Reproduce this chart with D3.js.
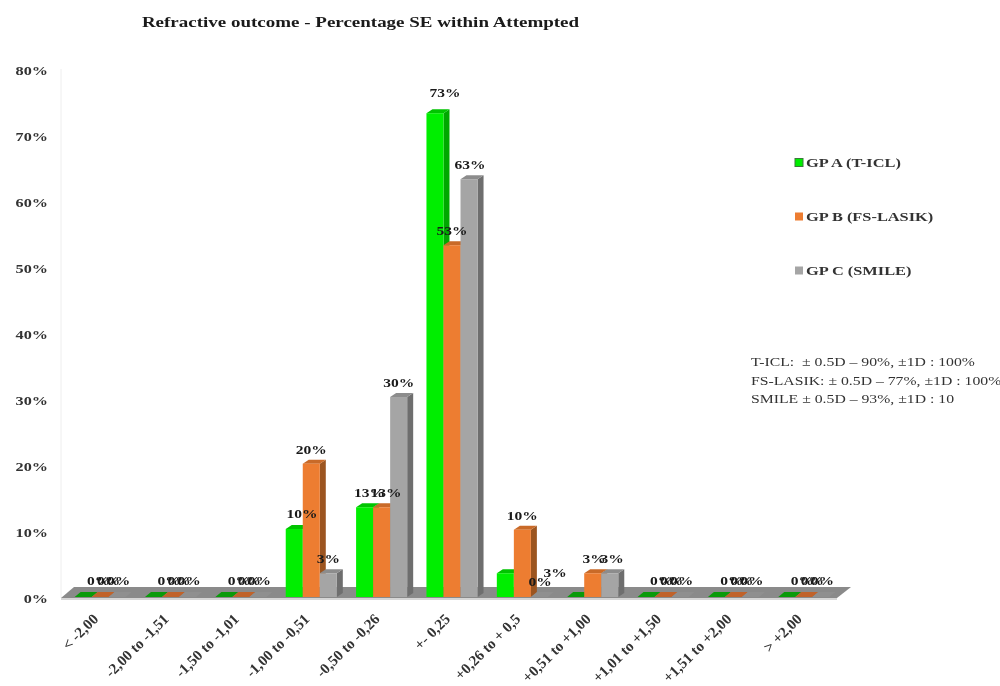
<!DOCTYPE html>
<html><head><meta charset="utf-8">
<script src="https://cdn.jsdelivr.net/npm/d3@7"></script>
<style>
html,body{margin:0;padding:0;background:#fff;overflow:hidden}
svg{display:block;filter:blur(0.7px)}
text{font-family:"Liberation Serif","Times New Roman",serif;fill:#1a1a1a}
</style></head><body>
<svg id="c" width="1000" height="686"></svg>
<script>
const categories=["< -2,00","-2,00 to -1,51","-1,50 to -1,01","-1,00 to -0,51","-0,50 to -0,26","+- 0,25","+0,26 to + 0,5","+0,51 to +1,00","+1,01 to +1,50","+1,51 to +2,00","> +2,00"];
const seriesNames=["GP A (T-ICL)","GP B (FS-LASIK)","GP C (SMILE)"];
const gpA=[0,0,0,10.3,13.6,73.3,3.6,0,0,0,0];
const gpB=[0,0,0,20.2,13.6,53.3,10.2,3.6,0,0,0];
const gpC=[0,0,0,3.6,30.3,63.3,0,3.6,0,0,0];
const labelsA=["0%","0%","0%","10%","13%","73%","3%","","0%","0%","0%"];
const labelsB=["0%","0%","0%","20%","13%","53%","10%","3%","0%","0%","0%"];
const labelsC=["0%","0%","0%","3%","30%","63%","0%","3%","0%","0%","0%"];
const yTicks=[0,10,20,30,40,50,60,70,80];
const noteLines=["T-ICL:  ± 0.5D – 90%, ±1D : 100%","FS-LASIK: ± 0.5D – 77%, ±1D : 100%","SMILE ± 0.5D – 93%, ±1D : 10"];
const titleText="Refractive outcome - Percentage SE within Attempted";

const series=[gpA,gpB,gpC], seriesLabels=[labelsA,labelsB,labelsC];
const front=["#00ee00","#ed7d31","#a5a5a5"], top_=["#00c400","#c96a28","#8c8c8c"], side=["#00a800","#9c5520","#6e6e6e"], flat=["#0a9a0a","#c0622a","#8f8f8f"];
const svg=d3.select("#c");
const x=d3.scaleBand().domain(categories).range([65,839]).paddingInner(0.274).paddingOuter(0.137);
const xs=d3.scaleBand().domain([0,1,2]).range([0,x.bandwidth()]);
const y=d3.scaleLinear().domain([0,80]).range([597,69]);
const dx=6, dy=-4;

// the reference is horizontally stretched, so text is widened about its anchor
function put(px,py,str,size,sx,opts={}){
  return svg.append("text").attr("transform",`translate(${px},${py}) scale(${sx},1)`)
    .attr("text-anchor",opts.anchor||"start").attr("font-size",size)
    .attr("font-weight",opts.bold?"bold":"normal").style("fill",opts.fill||"#1a1a1a")
    .style("white-space","pre").text(str);
}

put(360.5,27,titleText,15.5,1.225,{anchor:"middle",bold:true});

svg.append("line").attr("x1",61).attr("x2",61).attr("y1",y(80)).attr("y2",598).attr("stroke","#eeeeee");
const r0=[64,838];
svg.append("polygon").attr("fill","#8a8a8a").attr("points",[[r0[0]-3,598],[r0[1]-1,598],[r0[1]+13,587],[r0[0]+10,587]].join(" "));
svg.append("line").attr("x1",r0[0]-3).attr("x2",r0[1]-1).attr("y1",599).attr("y2",599).attr("stroke","#c8c8c8").attr("stroke-width",1.5);

const yAxis=d3.axisLeft(y).tickValues(yTicks).tickFormat(d=>d+"%").tickSize(0).tickPadding(0);
const ga=svg.append("g").attr("transform","translate(48,1)").call(yAxis);
ga.select(".domain").remove();
ga.selectAll("text").attr("font-weight","bold").attr("font-size",13.5).attr("transform","scale(1.2,1)")
  .style("font-family",'"Liberation Serif",serif').style("fill","#333");

categories.forEach((c,i)=>{
  const g=svg.append("g");
  series.forEach((s,k)=>{
    const x0=x(c)+xs(k), w=xs.bandwidth(), v=s[i], yt=y(v), yb=y(0);
    if(v===0){
      g.append("polygon").attr("fill",flat[k]).attr("points",[[x0,yb],[x0+w,yb],[x0+w+dx,yb-5],[x0+dx,yb-5]].join(" "));
      return;
    }
    g.append("polygon").attr("fill",side[k]).attr("points",[[x0+w,yt],[x0+w+dx,yt+dy],[x0+w+dx,yb+dy],[x0+w,yb]].join(" "));
    g.append("polygon").attr("fill",top_[k]).attr("points",[[x0,yt],[x0+w,yt],[x0+w+dx,yt+dy],[x0+dx,yt+dy]].join(" "));
    g.append("rect").attr("x",x0).attr("y",yt).attr("width",w).attr("height",yb-yt).attr("fill",front[k]);
  });
});

// data labels: zero labels are packed together and a few others were dragged aside in the reference
categories.forEach((c,i)=>{
  series.forEach((s,k)=>{
    const t=seriesLabels[k][i]; if(!t) return;
    const w=xs.bandwidth(), v=s[i];
    let cx, cy;
    if(v===0 && i!==6){cx=x(c)+24+k*10; cy=y(0)-12;}
    else {cx=x(c)+xs(k)+w/2+(k===0?5:0); cy=y(v)-10;}
    if(i===3&&k===0){cx=302; cy=y(v)-11;}
    if(i===4&&k===1){cx=386;}
    if(i===5&&k===0){cx=445; cy=y(v)-16;}
    if(i===5&&k===2){cx=470;}
    if(i===6&&k===0){cx=555; cy=577;}
    if(i===6&&k===2){cx=540; cy=586;}
    if(i===7&&k===1){cx=594;}
    if(i===7&&k===2){cx=612;}
    put(cx,cy,t,13.5,1.15,{anchor:"middle",bold:true});
  });
});

categories.forEach(c=>{
  const px=x(c)+x.bandwidth()/2-1;
  svg.append("text").attr("transform",`translate(${px},620) rotate(-45)`).attr("text-anchor","end")
    .attr("font-weight","bold").attr("font-size",15).style("fill","#333").text(c);
});

const legendY=d3.scalePoint().domain(seriesNames).range([163,271]);
seriesNames.forEach((n,k)=>{
  const ly=legendY(n);
  svg.append("rect").attr("x",795).attr("y",ly-4.5).attr("width",8).attr("height",8).attr("fill",front[k]).attr("stroke",k===0?"#3a7a3a":"none");
  put(806,ly+4,n,13,1.26,{bold:true,fill:"#333"});
});
noteLines.forEach((l,i)=>{
  put(751,366+i*18.5,l,13.5,1.167,{fill:"#333"});
});
</script></body></html>
